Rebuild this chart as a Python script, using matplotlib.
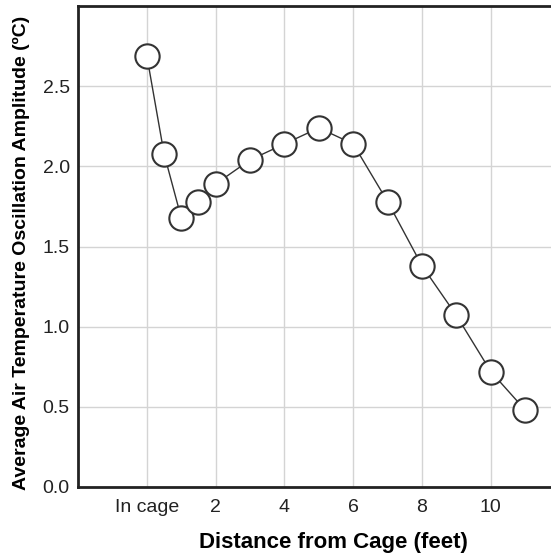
import matplotlib
matplotlib.use("Agg")
import matplotlib.pyplot as plt

plt.rcParams['font.family'] = ['Liberation Sans', 'DejaVu Sans']

# distance from cage (feet), 0 = in cage
distance = [0, 0.5, 1, 1.5, 2, 3, 4, 5, 6, 7, 8, 9, 10, 11]
amplitude = [2.69, 2.08, 1.68, 1.78, 1.89, 2.04, 2.14, 2.24, 2.14, 1.78, 1.38, 1.07, 0.72, 0.48]

xticks = [0, 2, 4, 6, 8, 10]
xtick_labels = ["In cage", "2", "4", "6", "8", "10"]
yticks = [0.0, 0.5, 1.0, 1.5, 2.0, 2.5]

fig = plt.figure(figsize=(5.51, 5.54), dpi=100)
ax = fig.add_axes([0.1416, 0.121, 0.8584, 0.868])

ax.plot(distance, amplitude, color="#333333", lw=1.0, marker="o", markersize=17.5,
        markerfacecolor="white", markeredgecolor="#333333", markeredgewidth=1.5, zorder=3)

ax.set_xlim(-2, 11.75)
ax.set_ylim(0, 3.0)
ax.set_xticks(xticks)
ax.set_xticklabels(xtick_labels)
ax.set_yticks(yticks)
ax.set_yticklabels(["%.1f" % v for v in yticks])
ax.tick_params(length=0, labelsize=14, colors="#222222", pad=9)
ax.tick_params(axis="y", pad=6)

ax.grid(True, color="#d4d4d4", lw=1)
ax.set_axisbelow(True)

ax.spines["right"].set_visible(False)
for s in ["left", "bottom", "top"]:
    ax.spines[s].set_linewidth(2)
    ax.spines[s].set_color("#222222")

ax.set_xlabel("Distance from Cage (feet)", fontsize=16, fontweight="bold")
ax.xaxis.set_label_coords(0.539, -0.093)
ax.set_ylabel("Average Air Temperature Oscillation Amplitude (ºC)", fontsize=14, fontweight="bold")
ax.yaxis.set_label_coords(-0.101, 0.487)

fig.savefig("out.png", dpi=100)
